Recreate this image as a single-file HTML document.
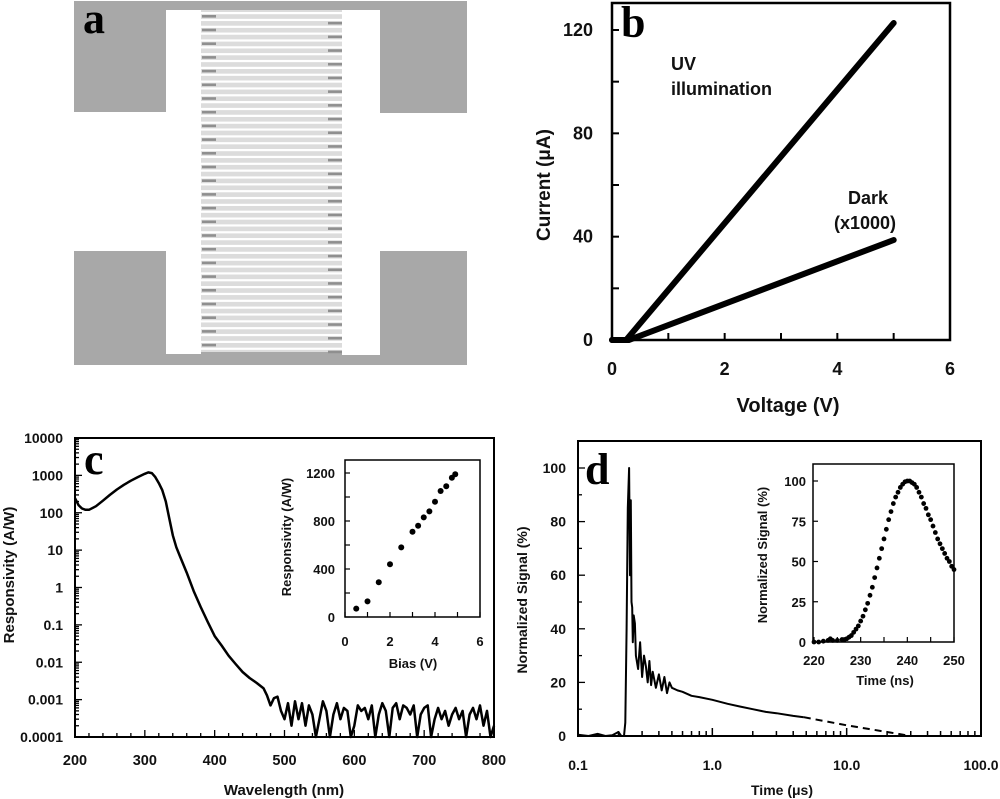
<!DOCTYPE html>
<html><head><meta charset="utf-8"><style>
html,body{margin:0;padding:0;background:#fff}
svg{display:block}
text{font-family:"Liberation Sans",sans-serif;font-weight:bold;fill:#111}
.pl{font-family:"Liberation Serif",serif;font-weight:bold;font-size:44px;fill:#000}
</style></head><body>
<svg id="fig" width="1000" height="799" viewBox="0 0 1000 799" xmlns="http://www.w3.org/2000/svg">
<g id="pa">
  <rect x="74" y="1" width="393" height="364" fill="#a8a8a8"/>
  <rect x="74" y="112" width="127" height="139" fill="#fff"/>
  <rect x="342" y="113" width="125" height="138" fill="#fff"/>
  <rect x="166" y="10" width="35" height="344" fill="#fff"/>
  <rect x="342" y="10" width="38" height="345" fill="#fff"/>
  <rect x="201" y="10" width="141" height="342" fill="#dcdcdc"/>
  <g id="fingers"></g>
  <text x="83" y="33" class="pl" font-size="40">a</text>
</g>
<g id="pb"></g>
<g id="pc"></g>
<g id="pd"></g>
</svg>
<script>
// ---- data panel b
const bUvV=[0,0.25,5];
const bUvI=[0,0,122.7];
const bDarkV=[0,0.3,5];
const bDarkI=[0,0,38.7];
const bXTicks=[0,2,4,6];
const bYTicks=[0,40,80,120];
// ---- data panel c
const cWl=[200,205,210,215,220,230,240,250,260,270,280,290,300,305,310,315,320,325,330,335,340,345,350,360,370,380,390,400,410,420,430,440,450,460,470,475,480,485,490,495];
const cResp=[245,160,130,120,120,150,210,300,420,560,720,900,1100,1200,1150,900,620,400,200,70,25,12,7,2.5,0.8,0.3,0.12,0.05,0.028,0.015,0.009,0.0055,0.0038,0.0028,0.002,0.0013,0.0007,0.0011,0.0012,0.0005];
const cNoise=[0.0003,0.0008,0.0002,0.0009,0.0003,0.0008,0.0002,0.0007,0.0004,0.0001,0.0003,0.0009,0.0005,0.0001,0.0004,0.0008,0.0003,0.0006,0.0005,0.0001,0.0002,0.0007,0.0005,0.0006,0.0003,0.0007,0.0001,0.0004,0.0008,0.0005,0.0001,0.0006,0.0008,0.0003,0.0007,0.0006,0.0004,0.0007,0.0001,0.0004,0.0006,0.0007,0.0001,0.0003,0.0006,0.0003,0.0005,0.0002,0.0004,0.0006,0.0003,0.0005,0.0001,0.0004,0.0006,0.0003,0.0007,0.0002,0.0005,0.0001,0.0002];
const cXTicks=[200,300,400,500,600,700,800];
const cYTickLabels=["0.0001","0.001","0.01","0.1","1","10","100","1000","10000"];
const ciBias=[0.5,1,1.5,2,2.5,3,3.25,3.5,3.75,4,4.25,4.5,4.75,4.9];
const ciResp=[70,130,290,440,580,710,760,830,880,960,1050,1090,1160,1190];
const ciXTicks=[0,2,4,6];
const ciYTicks=[0,400,800,1200];
// ---- data panel d
const dT=[0.1,0.12,0.14,0.16,0.18,0.2,0.21,0.22,0.225,0.23,0.235,0.24,0.244,0.247,0.25,0.253,0.256,0.26,0.265,0.27,0.28,0.29,0.3,0.31,0.32,0.33,0.34,0.35,0.36,0.38,0.4,0.42,0.44,0.46,0.48,0.5,0.55,0.6,0.7,0.8,1.0,1.3,1.6,2.0,2.5,3.0,4.0,4.8];
const dS=[0.5,0,0.8,0,0.3,1.5,0,0,5,40,85,100,60,88,50,48,35,45,42,30,25,35,22,30,26,20,28,19,24,18,23,17,22,16,20,18,17,16.5,15,14.5,13.5,12,11,10,9,8.5,7.5,7];
const dDashT=[4.8,10,20,30];
const dDashS=[7,4,1.5,0];
const dXTickLabels=["0.1","1.0","10.0","100.0"];
const dYTicks=[0,20,40,60,80,100];
const diT=[220,221,222,223,223.5,224,225,226,226.5,227,227.5,228,228.5,229,229.5,230,230.5,231,231.5,232,232.5,233,233.5,234,234.5,235,235.5,236,236.5,237,237.5,238,238.5,239,239.5,240,240.5,241,241.5,242,242.5,243,243.5,244,244.5,245,245.5,246,246.5,247,247.5,248,248.5,249,249.5,250];
const diS=[0,0,0.5,1,2,1,1,1.5,1.5,2,3,4,6,8,10,13,16,20,24,29,34,40,46,52,58,64,70,76,81,86,90,93,96,98,99.5,100,100,99,98,96,93,90,86,83,79,76,72,68,64,61,58,55,52,50,47,45];
const diXTicks=[220,230,240,250];
const diYTicks=[0,25,50,75,100];

const NS="http://www.w3.org/2000/svg";
function mk(parent,tag,attrs,txt){const e=document.createElementNS(NS,tag);for(const k in attrs)e.setAttribute(k,attrs[k]);if(txt!==undefined)e.textContent=txt;parent.appendChild(e);return e;}
function lin(d0,d1,r0,r1){return v=>r0+(v-d0)/(d1-d0)*(r1-r0);}
function logs(d0,d1,r0,r1){return v=>r0+(Math.log10(v)-Math.log10(d0))/(Math.log10(d1)-Math.log10(d0))*(r1-r0);}
function pathD(xs,ys,sx,sy){return xs.map((x,i)=>(i?'L':'M')+sx(x).toFixed(1)+','+sy(ys[i]).toFixed(1)).join('');}

// panel a fingers
(function(){const g=document.getElementById('fingers');
for(let i=0;i<50;i++){const y=12+i*6.85;
 const w=mk(g,'rect',{x:201,y:y,width:141,height:2.2,fill:'#fff'});
 
 
 const d=mk(g,'rect',{x:(i%2?328:202),y:y+3,width:14,height:2.6,fill:'#8f8f8f'});
 
 }
})();

// panel b
(function(){const g=document.getElementById('pb');
const sx=lin(0,6,612,950), sy=lin(0,120,340,30);
const fr=mk(g,'rect',{x:612,y:3,width:338,height:337,fill:'none',stroke:'#000','stroke-width':2.5});


for(let v=0;v<=6;v++){const t=mk(g,'line',{x1:sx(v),x2:sx(v),y1:340,y2:333,stroke:'#000','stroke-width':2});}
for(let v=0;v<=120;v+=20){const t=mk(g,'line',{x1:612,x2:619,y1:sy(v),y2:sy(v),stroke:'#000','stroke-width':2});}
bXTicks.forEach(v=>{const t=mk(g,'text',{x:sx(v),y:375,'font-size':18,'text-anchor':'middle'},String(v));});
bYTicks.forEach(v=>{const t=mk(g,'text',{x:593,y:sy(v)+6,'font-size':18,'text-anchor':'end'},String(v));});
let t=mk(g,'text',{x:788,y:412,'font-size':20,'text-anchor':'middle'},'Voltage (V)');
t=mk(g,'text',{x:0,y:0,'font-size':19,'text-anchor':'middle',transform:'translate(550,185) rotate(-90)'},'Current (μA)');
let p=mk(g,'path',{d:pathD(bUvV,bUvI,sx,sy),fill:'none',stroke:'#000','stroke-width':6,'stroke-linecap':'round'});
p=mk(g,'path',{d:pathD(bDarkV,bDarkI,sx,sy),fill:'none',stroke:'#000','stroke-width':6,'stroke-linecap':'round'});
t=mk(g,'text',{x:671,y:70,'font-size':18},'UV');
t=mk(g,'text',{x:671,y:95,'font-size':18},'illumination');
t=mk(g,'text',{x:848,y:204,'font-size':18},'Dark');
t=mk(g,'text',{x:834,y:229,'font-size':18},'(x1000)');
t=mk(g,'text',{x:621,y:37,'class':'pl','font-size':42},'b');
})();

// panel c
(function(){const g=document.getElementById('pc');
const sx=lin(200,800,75,494), sy=logs(0.0001,10000,737,438);
const fr=mk(g,'rect',{x:75,y:438,width:419,height:299,fill:'none',stroke:'#000','stroke-width':2});


for(let e=-4;e<4;e++)for(let m=1;m<10;m++){const y=sy(m*Math.pow(10,e));const t=mk(g,'line',{x1:75,x2:75+(m==1?7:4),y1:y,y2:y,stroke:'#000','stroke-width':1.3});}
for(let v=200;v<=800;v+=20){const t=mk(g,'line',{x1:sx(v),x2:sx(v),y1:737,y2:v%100==0?730:733,stroke:'#000','stroke-width':1.3});}
cXTicks.forEach(v=>{const t=mk(g,'text',{x:sx(v),y:765,'font-size':14.5,'text-anchor':'middle'},String(v));});
cYTickLabels.forEach(s=>{const t=mk(g,'text',{x:63,y:sy(parseFloat(s))+5,'font-size':14,'text-anchor':'end'},s);});
let t=mk(g,'text',{x:284,y:795,'font-size':15,'text-anchor':'middle'},'Wavelength  (nm)');
t=mk(g,'text',{x:0,y:0,'font-size':15,'text-anchor':'middle',transform:'translate(14,575) rotate(-90)'},'Responsivity  (A/W)');
const xs=cWl.concat(cNoise.map((_,i)=>500+i*5)), ys=cResp.concat(cNoise);
let p=mk(g,'path',{d:pathD(xs,ys,sx,sy),fill:'none',stroke:'#000','stroke-width':2.5,'stroke-linejoin':'round'});
t=mk(g,'text',{x:84,y:474,'class':'pl','font-size':42},'c');
// inset
const ix=lin(0,6,345,480), iy=lin(0,1200,617,473);
const ifr=mk(g,'rect',{x:345,y:460,width:135,height:157,fill:'none',stroke:'#000','stroke-width':1.5});


for(let v=0;v<=6;v++){const k=mk(g,'line',{x1:ix(v),x2:ix(v),y1:617,y2:612,stroke:'#000','stroke-width':1.2});}
for(let v=0;v<=1200;v+=200){const k=mk(g,'line',{x1:345,x2:350,y1:iy(v),y2:iy(v),stroke:'#000','stroke-width':1.2});}
ciXTicks.forEach(v=>{const k=mk(g,'text',{x:ix(v),y:646,'font-size':13,'text-anchor':'middle'},String(v));});
ciYTicks.forEach(v=>{const k=mk(g,'text',{x:335,y:iy(v)+5,'font-size':13,'text-anchor':'end'},String(v));});
t=mk(g,'text',{x:413,y:668,'font-size':13,'text-anchor':'middle'},'Bias (V)');
t=mk(g,'text',{x:0,y:0,'font-size':13,'text-anchor':'middle',transform:'translate(291,537) rotate(-90)'},'Responsivity (A/W)');
ciBias.forEach((b,i)=>{const c=mk(g,'circle',{cx:ix(b),cy:iy(ciResp[i]),r:3,fill:'#000'});});
})();

// panel d
(function(){const g=document.getElementById('pd');
const sx=logs(0.1,100,578,981), sy=lin(0,100,736,468);
const fr=mk(g,'rect',{x:578,y:441,width:403,height:295,fill:'none',stroke:'#000','stroke-width':2});


for(let e=-1;e<2;e++)for(let m=1;m<10;m++){const x=sx(m*Math.pow(10,e));const t=mk(g,'line',{x1:x,x2:x,y1:736,y2:m==1?728:731,stroke:'#000','stroke-width':1.5});}
for(let v=0;v<=100;v+=10){const t=mk(g,'line',{x1:578,x2:v%20==0?585:582,y1:sy(v),y2:sy(v),stroke:'#000','stroke-width':1.3});}
dXTickLabels.forEach(s=>{const t=mk(g,'text',{x:sx(parseFloat(s)),y:770,'font-size':14,'text-anchor':'middle'},s);});
dYTicks.forEach(v=>{const t=mk(g,'text',{x:566,y:sy(v)+5,'font-size':14,'text-anchor':'end'},String(v));});
let t=mk(g,'text',{x:782,y:795,'font-size':14,'text-anchor':'middle'},'Time (μs)');
t=mk(g,'text',{x:0,y:0,'font-size':14,'text-anchor':'middle',transform:'translate(527,600) rotate(-90)'},'Normalized Signal (%)');
let p=mk(g,'path',{d:pathD(dT,dS,sx,sy),fill:'none',stroke:'#000','stroke-width':2,'stroke-linejoin':'round'});
p=mk(g,'path',{d:pathD(dDashT,dDashS,sx,sy),fill:'none',stroke:'#000','stroke-width':2,'stroke-dasharray':'7,5'});
t=mk(g,'text',{x:585,y:484,'class':'pl','font-size':42},'d');
// inset
const ix=lin(220,250,814,954), iy=lin(0,100,642,481);
const ifr=mk(g,'rect',{x:813,y:464,width:141,height:178,fill:'none',stroke:'#000','stroke-width':1.5});


for(let v=220;v<=250;v+=5){const k=mk(g,'line',{x1:ix(v),x2:ix(v),y1:642,y2:637,stroke:'#000','stroke-width':1.2});}
diYTicks.forEach(v=>{const k=mk(g,'line',{x1:813,x2:818,y1:iy(v),y2:iy(v),stroke:'#000','stroke-width':1.2});});
diXTicks.forEach(v=>{const k=mk(g,'text',{x:ix(v),y:665,'font-size':13,'text-anchor':'middle'},String(v));});
diYTicks.forEach(v=>{const k=mk(g,'text',{x:806,y:iy(v)+5,'font-size':13,'text-anchor':'end'},String(v));});
t=mk(g,'text',{x:885,y:685,'font-size':13,'text-anchor':'middle'},'Time (ns)');
t=mk(g,'text',{x:0,y:0,'font-size':13,'text-anchor':'middle',transform:'translate(767,555) rotate(-90)'},'Normalized Signal (%)');
diT.forEach((v,i)=>{const c=mk(g,'circle',{cx:ix(v),cy:iy(diS[i]),r:2.4,fill:'#000'});});
})();
</script>
</body></html>
